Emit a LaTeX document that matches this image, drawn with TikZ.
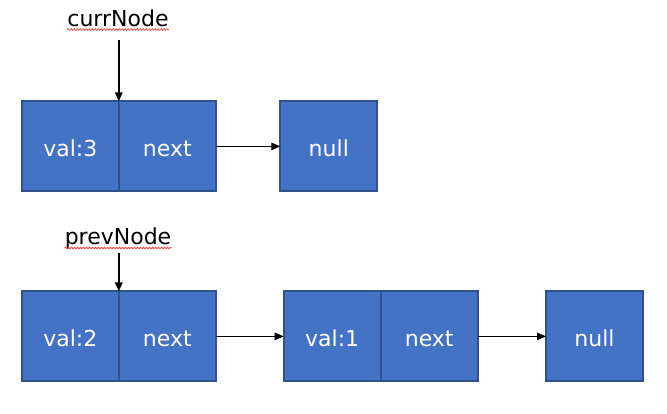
\documentclass[tikz,border=0pt]{standalone}
\usepackage{fontspec}
\setmainfont{DejaVu Sans}
\usetikzlibrary{positioning,arrows.meta,decorations.pathmorphing}
\definecolor{cellblue}{RGB}{68,114,196}
\definecolor{cellborder}{RGB}{47,82,143}
\definecolor{spellred}{RGB}{235,70,70}

\begin{document}
\begin{tikzpicture}[x=1pt, y=1pt, every node/.style={font=\fontsize{22}{26}\selectfont},
    cell/.style={draw=cellborder,fill=cellblue,line width=2pt,text=white,minimum width=97pt,minimum height=90pt,text height=20pt,text depth=0pt,inner sep=0pt,outer sep=0pt},
    tag/.style={inner sep=0pt,text depth=0pt,anchor=base},
    ptr/.style={-{Triangle[length=9pt,width=7.5pt]},line width=1pt},
    squiggle/.style={spellred,line width=0.8pt,decorate,decoration={snake,segment length=3pt,amplitude=0.8pt}}]
    \useasboundingbox (0,0) rectangle (667,413);

    % === Upper list – val:3 -> null ===
    \node[cell] (v3) at (70.3,266.6) {val:3};
    \node[cell,right=0pt of v3] (n3) {next};
    \node[cell] (null1) at (328.8,266.6) {null};

    \draw[ptr] (n3) -- (null1);

    \node[tag] (curr) at (118,386) {currNode};
    \draw[squiggle] ([yshift=-2.5pt]curr.base west) -- ([yshift=-2.5pt]curr.base east);
    \draw[ptr,line width=1.4pt,shorten <=13pt] (v3.north east |- curr.south) -- (v3.north east);


    % === Lower list – val:2 -> val:1 -> null ===
    \node[cell] (v2) at (70.3,76.6) {val:2};
    \node[cell,right=0pt of v2] (n2) {next};
    \node[cell] (v1) at (332.2,76.6) {val:1};
    \node[cell,right=0pt of v1] (n1) {next};
    \node[cell] (null2) at (594.5,76.6) {null};

    \draw[ptr] (n2) -- (v1);
    \draw[ptr] (n1) -- (null2);

    \node[tag] (prev) at (118,168) {prevNode};
    \draw[squiggle] ([yshift=-3pt]prev.base west) -- ([yshift=-3pt]prev.base east);
    \draw[ptr,line width=1.4pt,shorten <=8pt] (v2.north east |- prev.south) -- (v2.north east);
\end{tikzpicture}
\end{document}
